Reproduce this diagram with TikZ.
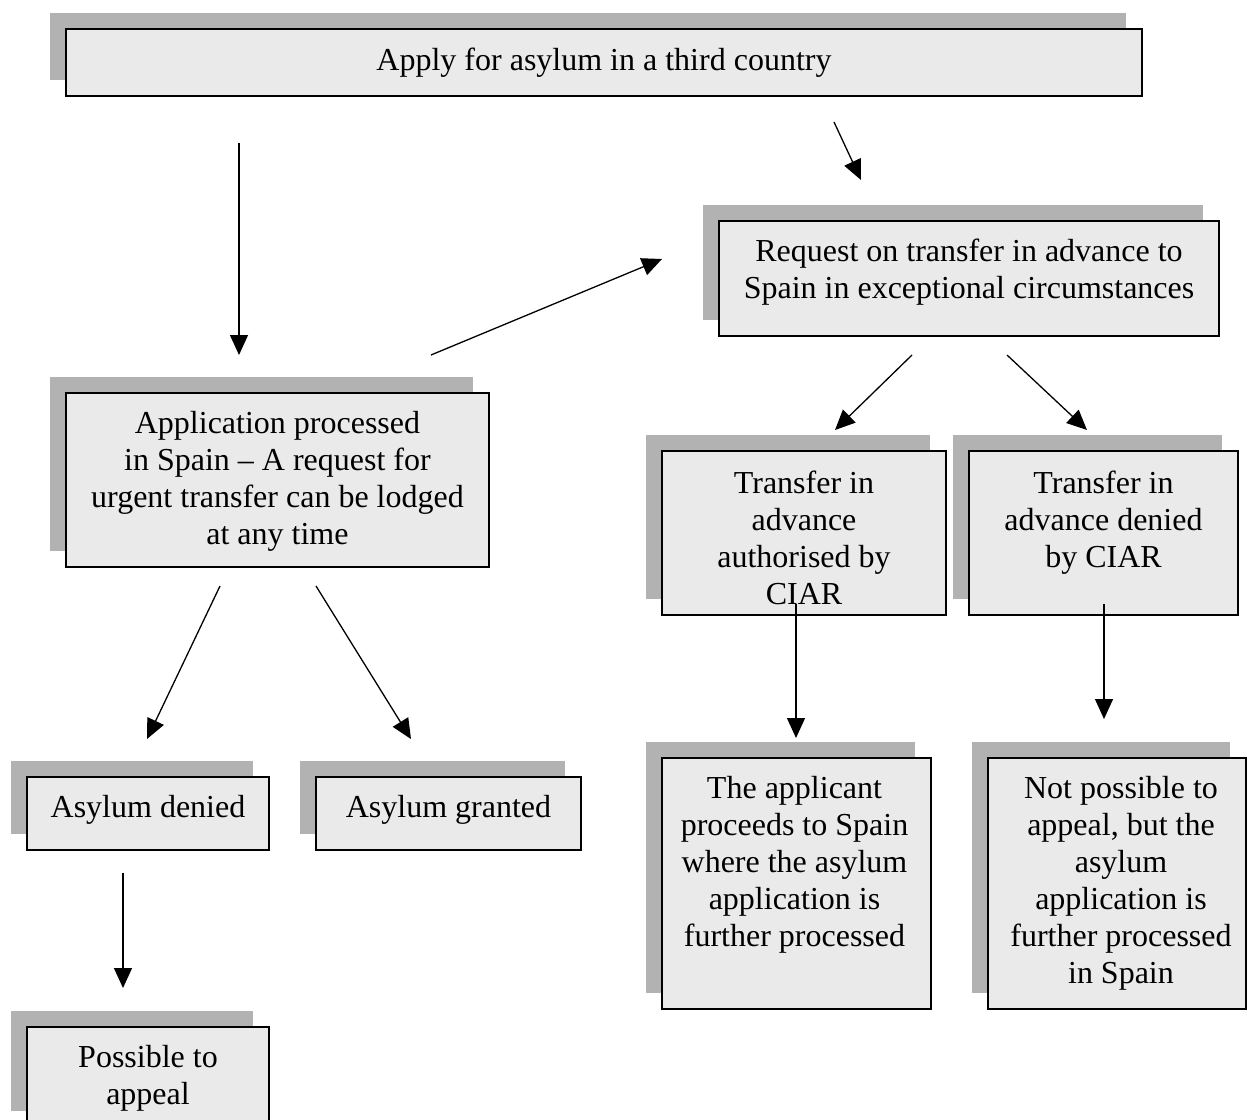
\documentclass[tikz,border=0pt]{standalone}
\usepackage{fontspec}
\setmainfont{Liberation Serif}
\usetikzlibrary{arrows.meta,shadows}
\definecolor{shadowgray}{HTML}{B2B2B2}
\definecolor{boxfill}{HTML}{EAEAEA}
\begin{document}
\begin{tikzpicture}[x=1pt,y=-1pt,
  box/.style={draw=black, line width=1.3pt, fill=boxfill, inner sep=0pt,
    drop shadow={shadow xshift=-16pt, shadow yshift=16pt, fill=shadowgray, opacity=1}},
  txt/.style={anchor=north, align=center, inner sep=0pt, font=\fontsize{32}{37}\selectfont},
  arr/.style={line width=1.3pt, -{Triangle[length=20pt,width=18pt]}}]
\useasboundingbox (0,0) rectangle (1247,1119);

% boxes
\node[box, minimum width=1076pt, minimum height=67pt]  (b1)  at (604,62.5) {};
\node[box, minimum width=500pt,  minimum height=115pt] (b2)  at (969,278.5) {};
\node[box, minimum width=423pt,  minimum height=174pt] (b3)  at (277.5,480) {};
\node[box, minimum width=284pt,  minimum height=164pt] (b4)  at (804,533) {};
\node[box, minimum width=269pt,  minimum height=164pt] (b5)  at (1103.5,533) {};
\node[box, minimum width=242pt,  minimum height=73pt]  (b6)  at (148,813.5) {};
\node[box, minimum width=265pt,  minimum height=73pt]  (b7)  at (448.5,813.5) {};
\node[box, minimum width=269pt,  minimum height=251pt] (b8)  at (796.5,883.5) {};
\node[box, minimum width=258pt,  minimum height=251pt] (b9)  at (1117,883.5) {};
\node[box, minimum width=242pt,  minimum height=100pt] (b10) at (148,1077) {};

% texts
\node[txt] (t1)  at ([yshift=-16pt]b1.north) {\strut Apply for asylum in a third country};
\node[txt] (t2)  at ([yshift=-15pt]b2.north) {\strut Request on transfer in advance to\\Spain in exceptional circumstances};
\node[txt] (t3)  at ([yshift=-15pt]b3.north) {\strut Application processed\\in Spain – A request for\\urgent transfer can be lodged\\at any time};
\node[txt] (t4)  at ([yshift=-17pt]b4.north) {\strut Transfer in\\advance\\authorised by\\CIAR};
\node[txt] (t5)  at ([yshift=-17pt]b5.north) {\strut Transfer in\\advance denied\\by CIAR};
\node[txt] (t6)  at ([yshift=-15pt]b6.north) {\strut Asylum denied};
\node[txt] (t7)  at ([yshift=-15pt]b7.north) {\strut Asylum granted};
\node[txt] (t8)  at ([xshift=-2pt,yshift=-15pt]b8.north) {\strut The applicant\\proceeds to Spain\\where the asylum\\application is\\further processed};
\node[txt] (t9)  at ([xshift=4pt,yshift=-15pt]b9.north) {\strut Not possible to\\appeal, but the\\asylum\\application is\\further processed\\in Spain};
\node[txt] (t10) at ([yshift=-15pt]b10.north) {\strut Possible to\\appeal};

% arrow end points
\coordinate (a1s) at (239,143);  \coordinate (a1e) at (239,355);
\coordinate (a2s) at (834,122);  \coordinate (a2e) at (861,180);
\coordinate (a3s) at (431,355);  \coordinate (a3e) at (662,259);
\coordinate (a4s) at (912,355);  \coordinate (a4e) at (835,430);
\coordinate (a5s) at (1007,355); \coordinate (a5e) at (1087,430);
\coordinate (a6s) at (220,586);  \coordinate (a6e) at (147,739);
\coordinate (a7s) at (316,586);  \coordinate (a7e) at (411,739);
\coordinate (a8s) at (796,604);  \coordinate (a8e) at (796,738);
\coordinate (a9s) at (1104,604); \coordinate (a9e) at (1104,719);
\coordinate (a10s) at (123,873); \coordinate (a10e) at (123,988);

\draw[arr] (a1s) -- (a1e);
\draw[arr] (a2s) -- (a2e);
\draw[arr] (a3s) -- (a3e);
\draw[arr] (a4s) -- (a4e);
\draw[arr] (a5s) -- (a5e);
\draw[arr] (a6s) -- (a6e);
\draw[arr] (a7s) -- (a7e);
\draw[arr] (a8s) -- (a8e);
\draw[arr] (a9s) -- (a9e);
\draw[arr] (a10s) -- (a10e);
\end{tikzpicture}
\end{document}
